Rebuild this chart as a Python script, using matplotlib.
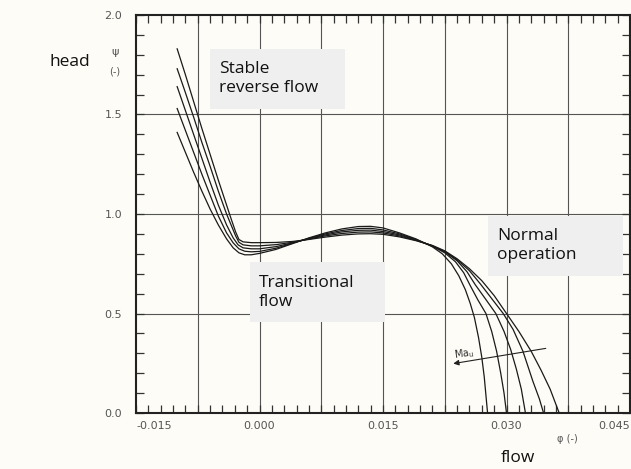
import matplotlib
matplotlib.use("Agg")
import matplotlib.pyplot as plt
from matplotlib.patches import Rectangle
import numpy as np

# ---- data (flow coefficient phi, head coefficient psi) ----
phi_c1 = [-0.0100, -0.0090, -0.0080, -0.0070, -0.0060, -0.0050, -0.0040, -0.0034, -0.0029, -0.0025, -0.0020, -0.0010,
          0.000, 0.002, 0.004, 0.006, 0.008, 0.010, 0.012, 0.0135,
          0.0150, 0.0170, 0.0190, 0.0210, 0.0225, 0.0240, 0.0255, 0.0270, 0.0285, 0.0300, 0.0315, 0.0330, 0.0342, 0.0353, 0.0364]
psi_c1 = [1.83, 1.70, 1.565, 1.43, 1.30, 1.17, 1.045, 0.97, 0.91, 0.872, 0.860, 0.856,
          0.856, 0.857, 0.862, 0.872, 0.884, 0.894, 0.900, 0.901,
          0.898, 0.885, 0.866, 0.842, 0.815, 0.775, 0.725, 0.665, 0.59, 0.50, 0.41, 0.31, 0.215, 0.12, 0.0]

phi_c2 = [-0.0100, -0.0090, -0.0080, -0.0070, -0.0060, -0.0050, -0.0040, -0.0034, -0.0029, -0.0025, -0.0020, -0.0010,
          0.000, 0.002, 0.004, 0.006, 0.008, 0.010, 0.012, 0.0135,
          0.0150, 0.0170, 0.0190, 0.0210, 0.0225, 0.0240, 0.0255, 0.0268, 0.0282, 0.0296, 0.0308, 0.0320, 0.0332, 0.0340, 0.0345]
psi_c2 = [1.73, 1.61, 1.487, 1.36, 1.24, 1.115, 1.00, 0.94, 0.89, 0.858, 0.845, 0.840,
          0.840, 0.846, 0.858, 0.874, 0.890, 0.902, 0.909, 0.910,
          0.905, 0.890, 0.868, 0.840, 0.812, 0.770, 0.715, 0.65, 0.575, 0.50, 0.42, 0.31, 0.16, 0.07, 0.0]

phi_c3 = [-0.0100, -0.0090, -0.0080, -0.0070, -0.0060, -0.0050, -0.0040, -0.0032, -0.0026, -0.0020, -0.0010,
          0.000, 0.002, 0.004, 0.006, 0.008, 0.010, 0.012, 0.0135,
          0.0150, 0.0170, 0.0190, 0.0210, 0.0225, 0.0240, 0.0252, 0.0262, 0.0275, 0.0287, 0.0297, 0.0305, 0.0312, 0.0318, 0.0323]
psi_c3 = [1.64, 1.52, 1.40, 1.28, 1.16, 1.045, 0.945, 0.88, 0.845, 0.830, 0.825,
          0.825, 0.836, 0.855, 0.876, 0.895, 0.910, 0.918, 0.919,
          0.912, 0.895, 0.870, 0.840, 0.810, 0.765, 0.71, 0.645, 0.57, 0.50, 0.41, 0.32, 0.22, 0.12, 0.0]

phi_c4 = [-0.0100, -0.0090, -0.0080, -0.0070, -0.0060, -0.0050, -0.0040, -0.0032, -0.0025, -0.0018, -0.0010,
          0.000, 0.002, 0.004, 0.006, 0.008, 0.010, 0.012, 0.0135,
          0.0150, 0.0170, 0.0190, 0.0210, 0.0225, 0.0238, 0.0248, 0.0256, 0.0265, 0.0275, 0.0282, 0.0288, 0.0293, 0.0297, 0.0300]
psi_c4 = [1.53, 1.42, 1.31, 1.20, 1.095, 0.99, 0.905, 0.855, 0.825, 0.813, 0.810,
          0.812, 0.828, 0.853, 0.878, 0.900, 0.917, 0.927, 0.928,
          0.920, 0.900, 0.872, 0.838, 0.805, 0.76, 0.705, 0.64, 0.57, 0.50, 0.41, 0.31, 0.20, 0.10, 0.0]

phi_c5 = [-0.0100, -0.0090, -0.0080, -0.0070, -0.0060, -0.0050, -0.0040, -0.0032, -0.0025, -0.0018, -0.0010,
          0.000, 0.002, 0.004, 0.006, 0.008, 0.010, 0.012, 0.0135,
          0.0150, 0.0170, 0.0190, 0.0210, 0.0222, 0.0233, 0.0242, 0.0250, 0.0256, 0.0261, 0.0266, 0.0270, 0.0273, 0.0275, 0.0277]
psi_c5 = [1.41, 1.31, 1.21, 1.115, 1.025, 0.945, 0.875, 0.83, 0.805, 0.795, 0.795,
          0.802, 0.822, 0.851, 0.880, 0.905, 0.925, 0.937, 0.938,
          0.930, 0.905, 0.875, 0.835, 0.80, 0.75, 0.69, 0.62, 0.55, 0.48, 0.38, 0.28, 0.18, 0.09, 0.0]

curves = [(phi_c1, psi_c1), (phi_c2, psi_c2), (phi_c3, psi_c3), (phi_c4, psi_c4), (phi_c5, psi_c5)]

x_tick_values = [-0.015, 0.000, 0.015, 0.030, 0.045]
x_tick_labels = ["-0.015", "0.000", "0.015", "0.030", "0.045"]
y_tick_values = [0.0, 0.5, 1.0, 1.5, 2.0]
y_tick_labels = ["0.0", "0.5", "1.0", "1.5", "2.0"]

region_labels = ["Stable\nreverse flow", "Transitional\nflow", "Normal\noperation"]

# ---- figure ----
paper = "#fdfcf6"
fig = plt.figure(figsize=(6.31, 4.69), dpi=100, facecolor=paper)
W, H = 631, 469
ax = fig.add_axes([136 / W, 1 - 413 / H, (630 - 136) / W, (413 - 15) / H], facecolor=paper)

ax.set_xlim(-0.015, 0.045)
ax.set_ylim(0.0, 2.0)

# grid
for gx in np.arange(-0.0075, 0.045, 0.0075):
    ax.axvline(gx, color="#555555", lw=0.8, zorder=1)
for gy in [0.5, 1.0, 1.5]:
    ax.axhline(gy, color="#555555", lw=0.8, zorder=1)

# ticks
ax.set_xticks(x_tick_values)
ax.set_xticklabels(x_tick_labels)
ax.set_yticks(y_tick_values)
ax.set_yticklabels(y_tick_labels)
ax.set_xticks(np.arange(-0.015, 0.0451, 0.0015), minor=True)
ax.set_yticks(np.arange(0.0, 2.001, 0.1), minor=True)
ax.tick_params(which="both", direction="in", top=True, right=True, length=6, width=0.9, color="#333333")
ax.tick_params(axis="x", which="major", labelsize=8, labelcolor="#555555", pad=6)
ax.tick_params(axis="y", which="major", labelsize=8, labelcolor="#555555", pad=10)
xl = ax.get_xticklabels()
xl[0].set_horizontalalignment("left")
xl[-1].set_horizontalalignment("right")
for s in ax.spines.values():
    s.set_linewidth(1.5)
    s.set_color("#222222")

# curves
for phi, psi in curves:
    ax.plot(phi, psi, color="#1a1a1a", lw=0.9, zorder=3)

# region boxes
boxes = [(-0.0060, 1.53, 0.0164, 0.30), (-0.0012, 0.456, 0.0164, 0.301), (0.0278, 0.687, 0.0164, 0.305)]
for (bx, by, bw, bh), lab in zip(boxes, region_labels):
    ax.add_patch(Rectangle((bx, by), bw, bh, facecolor="#efefef", edgecolor="none", zorder=2))
    ax.text(bx + 0.0011, by + bh / 2, lab, fontsize=12.5, family="Open Sans", color="#111111",
            va="center", ha="left", linespacing=1.25, zorder=4)

# Ma_u arrow
ax.annotate("", xy=(0.0232, 0.246), xytext=(0.0351, 0.327),
            arrowprops=dict(arrowstyle="-|>", color="#222222", lw=0.8, mutation_scale=8), zorder=4)
ax.text(0.0248, 0.300, r"Ma$_{\mathrm{u}}$", fontsize=7, color="#333333", ha="center", va="center", rotation=8, zorder=4)

# axis annotations
fig.text(115 / W, 1 - 52 / H, "ψ", fontsize=8, color="#555555", ha="center", va="center")
fig.text(115 / W, 1 - 72 / H, "(-)", fontsize=7, color="#555555", ha="center", va="center")
fig.text(70 / W, 1 - 62 / H, "head", fontsize=12.5, family="Open Sans", color="#111111", ha="center", va="center")
fig.text(567 / W, 1 - 439 / H, "φ (-)", fontsize=7, color="#555555", ha="center", va="center")
fig.text(518 / W, 1 - 458 / H, "flow", fontsize=12.5, family="Open Sans", color="#111111", ha="center", va="center")

fig.savefig("out.png", dpi=100, facecolor=paper)
